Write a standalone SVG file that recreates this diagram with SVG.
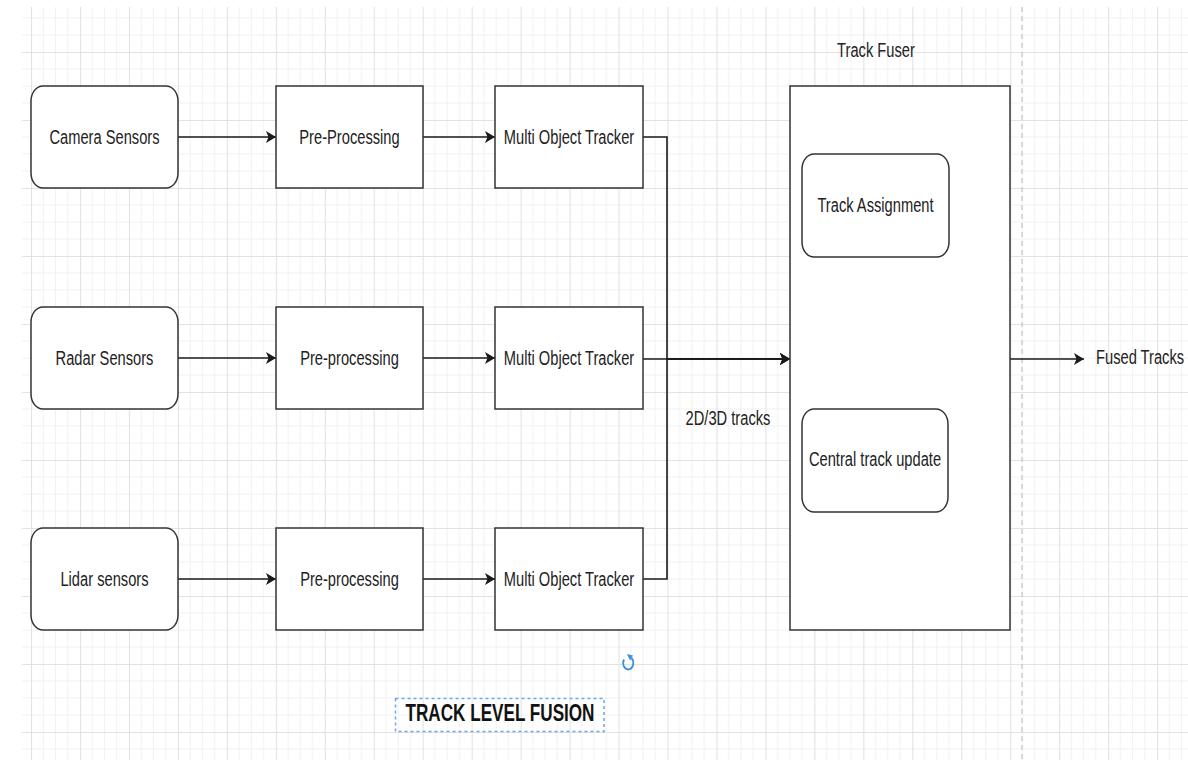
<svg xmlns="http://www.w3.org/2000/svg" width="1188" height="760" viewBox="0 0 1188 760">
<defs>
<pattern id="grid" patternUnits="userSpaceOnUse" x="31" y="52" width="48.96" height="68">
<g stroke="#f1f1f1" stroke-width="1">
<line x1="12.24" y1="0" x2="12.24" y2="68"/>
<line x1="24.48" y1="0" x2="24.48" y2="68"/>
<line x1="36.72" y1="0" x2="36.72" y2="68"/>
<line x1="0" y1="17" x2="48.96" y2="17"/>
<line x1="0" y1="34" x2="48.96" y2="34"/>
<line x1="0" y1="51" x2="48.96" y2="51"/>
</g>
<g stroke="#e2e2e2" stroke-width="1.2">
<line x1="0.5" y1="0" x2="0.5" y2="68"/>
<line x1="0" y1="0.5" x2="48.96" y2="0.5"/>
</g>
</pattern>
<marker id="arr" markerUnits="userSpaceOnUse" viewBox="0 0 10 12" refX="10" refY="6" markerWidth="10" markerHeight="12" orient="auto">
<path d="M0,0 L10,6 L0,12 L2.5,6 Z" fill="#1a1a1a"/>
</marker>
</defs>
<style>
.box{fill:#ffffff;stroke:#333333;stroke-width:1.5}
.t{font-family:"Liberation Sans",Arial,Helvetica,sans-serif;font-size:12px;fill:#222222;text-anchor:middle}
.tl{font-family:"Liberation Sans",Arial,Helvetica,sans-serif;font-size:12px;fill:#222222}
.title{font-family:"Liberation Sans",Arial,Helvetica,sans-serif;font-size:14px;font-weight:bold;fill:#111111;text-anchor:middle}
.edge{fill:none;stroke:#1a1a1a;stroke-width:1.6}
</style>
<rect x="0" y="0" width="1188" height="760" fill="#ffffff"/>
<rect x="22" y="7" width="1166" height="753" fill="url(#grid)"/>
<line x1="1022" y1="7" x2="1022" y2="760" stroke="#c4c4c4" stroke-width="1.2" stroke-dasharray="5 4"/>

<g id="connectors">
<path class="edge" d="M178,137 L276,137" marker-end="url(#arr)"/>
<path class="edge" d="M423,137 L495,137" marker-end="url(#arr)"/>
<path class="edge" d="M178,358 L276,358" marker-end="url(#arr)"/>
<path class="edge" d="M423,358 L495,358" marker-end="url(#arr)"/>
<path class="edge" d="M178,579 L276,579" marker-end="url(#arr)"/>
<path class="edge" d="M423,579 L495,579" marker-end="url(#arr)"/>
<path class="edge" d="M643,137 L667,137 L667,359 L790,359" marker-end="url(#arr)"/>
<path class="edge" d="M643,359 L790,359" marker-end="url(#arr)"/>
<path class="edge" d="M643,579 L667,579 L667,359 L790,359" marker-end="url(#arr)"/>
<path class="edge" d="M1010,359 L1084,359" marker-end="url(#arr)"/>
<text class="t" transform="translate(728,425) scale(1.224,1.7)">2D/3D tracks</text>
</g>

<g id="camera-sensors">
<rect class="box" x="31" y="86" width="147" height="102" rx="12" ry="15"/>
<text class="t" transform="translate(104.5,143.5) scale(1.224,1.7)">Camera Sensors</text>
</g>
<g id="pre-processing-1">
<rect class="box" x="276" y="86" width="147" height="102"/>
<text class="t" transform="translate(349.5,143.5) scale(1.224,1.7)">Pre-Processing</text>
</g>
<g id="mot-1">
<rect class="box" x="495" y="86" width="148" height="102"/>
<text class="t" transform="translate(569,143.5) scale(1.224,1.7)">Multi Object Tracker</text>
</g>

<g id="radar-sensors">
<rect class="box" x="31" y="307" width="147" height="102" rx="12" ry="15"/>
<text class="t" transform="translate(104.5,364.5) scale(1.224,1.7)">Radar Sensors</text>
</g>
<g id="pre-processing-2">
<rect class="box" x="276" y="307" width="147" height="102"/>
<text class="t" transform="translate(349.5,364.5) scale(1.224,1.7)">Pre-processing</text>
</g>
<g id="mot-2">
<rect class="box" x="495" y="307" width="148" height="102"/>
<text class="t" transform="translate(569,364.5) scale(1.224,1.7)">Multi Object Tracker</text>
</g>

<g id="lidar-sensors">
<rect class="box" x="31" y="528" width="147" height="102" rx="12" ry="15"/>
<text class="t" transform="translate(104.5,585.5) scale(1.224,1.7)">Lidar sensors</text>
</g>
<g id="pre-processing-3">
<rect class="box" x="276" y="528" width="147" height="102"/>
<text class="t" transform="translate(349.5,585.5) scale(1.224,1.7)">Pre-processing</text>
</g>
<g id="mot-3">
<rect class="box" x="495" y="528" width="148" height="102"/>
<text class="t" transform="translate(569,585.5) scale(1.224,1.7)">Multi Object Tracker</text>
</g>

<g id="track-fuser">
<rect class="box" x="790" y="86" width="220" height="544"/>
<text class="t" transform="translate(876,57) scale(1.224,1.7)">Track Fuser</text>
</g>
<g id="track-assignment">
<rect class="box" x="802" y="154" width="147" height="103" rx="12" ry="15"/>
<text class="t" transform="translate(875.5,211.5) scale(1.224,1.7)">Track Assignment</text>
</g>
<g id="central-track-update">
<rect class="box" x="802" y="409" width="146" height="103" rx="12" ry="15"/>
<text class="t" transform="translate(875,466) scale(1.224,1.7)">Central track update</text>
</g>

<g id="fused-tracks">
<text class="tl" transform="translate(1096,363.5) scale(1.224,1.7)">Fused Tracks</text>
</g>

<g id="title">
<rect x="395.5" y="698.5" width="208.5" height="33" fill="none" stroke="#6aa8ec" stroke-width="1.5" stroke-dasharray="3 3"/>
<text class="title" transform="translate(500,721) scale(1.224,1.7)">TRACK LEVEL FUSION</text>
</g>

<g id="refresh-icon">
<path d="M631.5,658 A5 6.5 0 1 1 624,659.5" fill="none" stroke="#3d8fe0" stroke-width="2"/>
<path d="M627,654 L633,655.5 L630,660.5 Z" fill="#3d8fe0"/>
</g>
</svg>
